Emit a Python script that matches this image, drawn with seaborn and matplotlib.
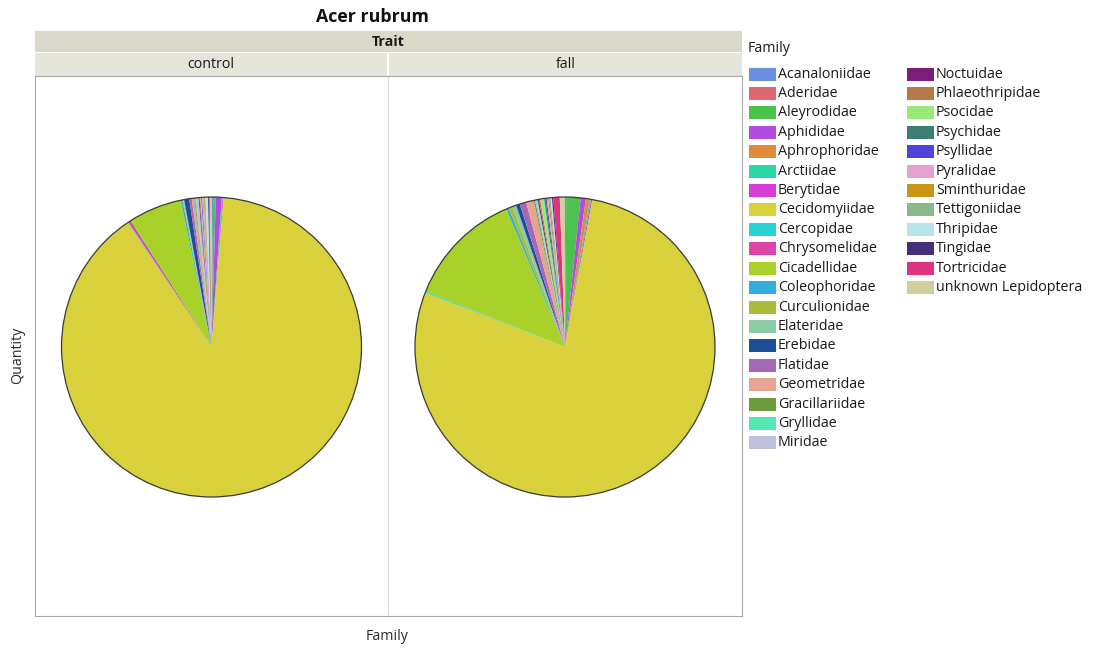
import matplotlib
matplotlib.use("Agg")
import matplotlib.pyplot as plt
from matplotlib.patches import Rectangle, Circle
import seaborn as sns

# ---- data -------------------------------------------------------------
families = [
    "Acanaloniidae", "Aderidae", "Aleyrodidae", "Aphididae", "Aphrophoridae",
    "Arctiidae", "Berytidae", "Cecidomyiidae", "Cercopidae", "Chrysomelidae",
    "Cicadellidae", "Coleophoridae", "Curculionidae", "Elateridae", "Erebidae",
    "Flatidae", "Geometridae", "Gracillariidae", "Gryllidae", "Miridae",
    "Noctuidae", "Phlaeothripidae", "Psocidae", "Psychidae", "Psyllidae",
    "Pyralidae", "Sminthuridae", "Tettigoniidae", "Thripidae", "Tingidae",
    "Tortricidae", "unknown Lepidoptera",
]

control_counts = [
    2, 0, 3, 7, 0, 1, 1, 975, 1, 3,
    63, 2, 1, 1, 6, 3, 3, 1, 1, 3,
    1, 1, 1, 0, 1, 2, 1, 1, 3, 1,
    1, 2,
]

fall_counts = [
    1, 0, 11, 4, 3, 1, 1, 560, 1, 0,
    90, 2, 3, 3, 3, 5, 6, 1, 1, 1,
    1, 1, 3, 1, 1, 1, 1, 1, 1, 1,
    5, 4,
]

traits = ["control", "fall"]

family_colors = [
    "#6A8FE3", "#DE6872", "#4CC24E", "#B24BE0", "#E08A3C",
    "#2AD6A2", "#D83CDB", "#D9D13B", "#27D3D3", "#DD44A8",
    "#A8D12A", "#33AEDC", "#A6BE3A", "#8CCBA3", "#1E4E9A",
    "#A46AB8", "#E6A390", "#6A9A3A", "#52E8B1", "#BEC0DC",
    "#7A1E78", "#B67A4A", "#9BE87A", "#3B7F74", "#4E45D8",
    "#E3A2CF", "#C99618", "#8BB888", "#B8E3E8", "#44307A",
    "#DE3380", "#D0CE9C",
]

# ---- styling ----------------------------------------------------------
sns.set_theme(style="white")
plt.rcParams["font.family"] = ["Open Sans", "DejaVu Sans"]
palette = sns.color_palette(family_colors)

W, H = 1094, 651
fig = plt.figure(figsize=(W / 100, H / 100), dpi=100)
fig.patch.set_facecolor("white")

FS = 10.3


def px_axes(x0, y0, x1, y1):
    """Axes placed by pixel box (top-left origin)."""
    return fig.add_axes([x0 / W, 1 - y1 / H, (x1 - x0) / W, (y1 - y0) / H])


def band(x0, y0, x1, y1, color, label, bold=False):
    ax = px_axes(x0, y0, x1, y1)
    ax.set_facecolor(color)
    ax.set_xticks([])
    ax.set_yticks([])
    for s in ax.spines.values():
        s.set_visible(False)
    ax.text(0.5, 0.5, label, ha="center", va="center", fontsize=FS,
            fontweight="bold" if bold else "normal", color="#1A1A1A",
            transform=ax.transAxes)
    return ax


left, right, mid = 35, 742, 388
top_band, sub_band, panel_top, panel_bot = 31, 53, 76, 616

fig.text(372 / W, 1 - 17 / H, "Acer rubrum", ha="center", va="center",
         fontsize=12.8, fontweight="bold", color="#101010")

band(left, top_band, right, sub_band - 1, "#DAD8C8", "Trait", bold=True)
band(left, sub_band, mid - 1, panel_top, "#E6E5DB", traits[0])
band(mid + 1, sub_band, right, panel_top, "#E6E5DB", traits[1])

R = 150
for i, (trait, counts) in enumerate(zip(traits, [control_counts, fall_counts])):
    x0 = left if i == 0 else mid
    x1 = mid if i == 0 else right
    ax = px_axes(x0, panel_top, x1, panel_bot)
    ax.pie(counts, colors=palette, startangle=90, counterclock=False,
           radius=R, center=(0, 0), frame=True,
           wedgeprops=dict(linewidth=0))
    ax.add_patch(Circle((0, 0), R, fill=False, edgecolor="#3A3A3A",
                        linewidth=0.9))
    w = x1 - x0
    h = panel_bot - panel_top
    ax.set_xlim(-w / 2, w / 2)
    ax.set_ylim(-h / 2 + 1, h / 2 + 1)
    ax.set_aspect("auto")
    ax.set_xticks([])
    ax.set_yticks([])
    for side, s in ax.spines.items():
        s.set_linewidth(0.8)
        s.set_color("#A8A8A8")
    if i == 0:
        ax.spines["right"].set_color("#DADADA")
    else:
        ax.spines["left"].set_color("#DADADA")

fig.text(18 / W, 1 - 355 / H, "Quantity", rotation=90, ha="center",
         va="center", fontsize=FS, color="#2A2A2A")
fig.text(387 / W, 1 - 637 / H, "Family", ha="center", va="center",
         fontsize=FS, color="#2A2A2A")

# ---- legend -----------------------------------------------------------
lax = px_axes(745, 35, W, 470)
lax.set_xlim(745, W)
lax.set_ylim(470, 35)
lax.axis("off")
lax.text(748, 49, "Family", ha="left", va="center", fontsize=FS,
         color="#1A1A1A")
per_col = 20
row_h = 19.42
for k, (name, col) in enumerate(zip(families, palette)):
    c = k // per_col
    r = k % per_col
    sx = 749 + c * 158
    sy = 74 + r * row_h
    lax.add_patch(Rectangle((sx, sy - 6.5), 27, 13, facecolor=col,
                            edgecolor="none"))
    lax.text(sx + 29, sy, name, ha="left", va="center", fontsize=FS,
             color="#1A1A1A")

fig.savefig("out.png", dpi=100, facecolor="white")
